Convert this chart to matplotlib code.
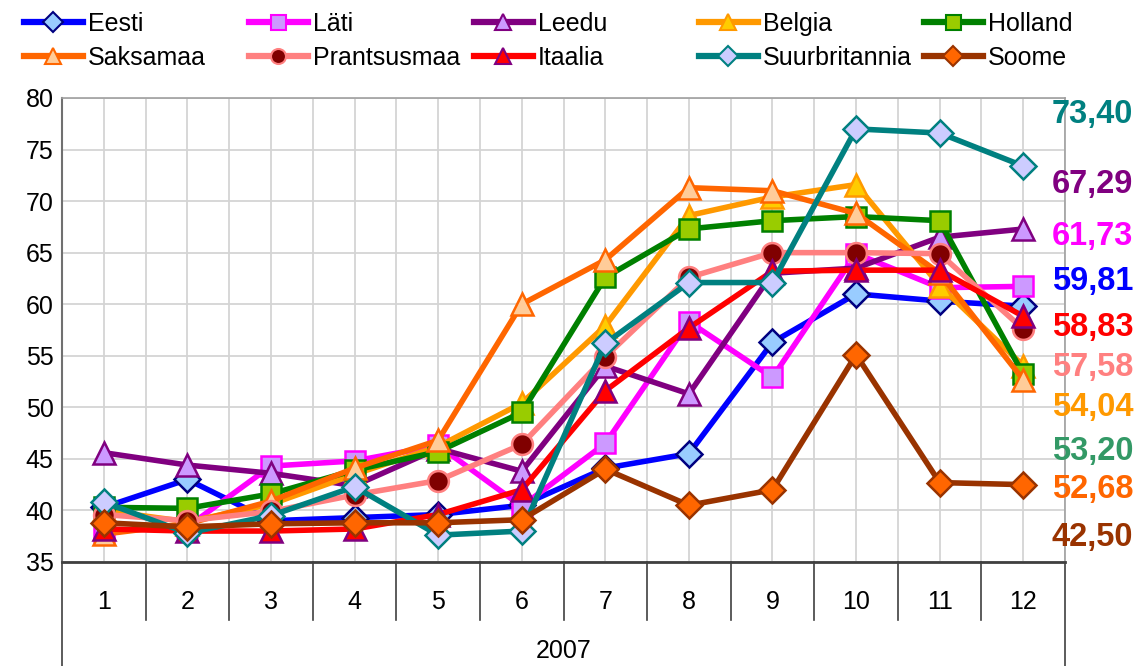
import numpy as np
import matplotlib
matplotlib.use("Agg")
import matplotlib.pyplot as plt
from matplotlib.lines import Line2D

plt.rcParams['font.family'] = ['Liberation Sans', 'DejaVu Sans']

# Monthly index values, 2007
months = ['1', '2', '3', '4', '5', '6', '7', '8', '9', '10', '11', '12']
year_label = '2007'

eesti = [40.3, 43.0, 39.0, 39.3, 39.6, 40.5, 44.1, 45.5, 56.3, 61.0, 60.3, 59.81]
lati = [38.0, 38.4, 44.3, 44.8, 46.3, 40.4, 46.5, 58.3, 52.9, 64.9, 61.6, 61.73]
leedu = [45.6, 44.4, 43.6, 42.4, 46.0, 43.8, 54.0, 51.3, 63.0, 63.5, 66.5, 67.29]
belgia = [40.0, 38.9, 40.6, 43.5, 46.2, 50.4, 57.9, 68.6, 70.4, 71.6, 61.8, 54.04]
holland = [40.3, 40.2, 41.6, 43.9, 45.7, 49.5, 62.6, 67.3, 68.1, 68.5, 68.1, 53.20]
saksamaa = [37.7, 38.7, 40.9, 44.1, 46.8, 60.0, 64.3, 71.3, 71.0, 68.8, 63.0, 52.68]
prantsusmaa = [39.6, 39.0, 39.9, 41.5, 42.9, 46.4, 54.9, 62.6, 65.0, 65.0, 64.9, 57.58]
itaalia = [38.2, 38.0, 38.0, 38.2, 39.6, 42.0, 51.6, 57.7, 63.2, 63.3, 63.3, 58.83]
suurbritannia = [40.8, 37.8, 39.5, 42.3, 37.6, 38.0, 56.2, 62.1, 62.1, 77.0, 76.6, 73.40]
soome = [38.8, 38.4, 38.7, 38.8, 38.8, 39.1, 44.0, 40.5, 42.0, 55.1, 42.7, 42.50]

names = ['Eesti', 'Läti', 'Leedu', 'Belgia', 'Holland',
         'Saksamaa', 'Prantsusmaa', 'Itaalia', 'Suurbritannia', 'Soome']
values = [eesti, lati, leedu, belgia, holland,
          saksamaa, prantsusmaa, itaalia, suurbritannia, soome]

# line colour, marker, marker face, marker edge, end-label colour
styles = [
    ('#0000FF', 'D', '#99CCFF', '#000080', '#0000FF'),
    ('#FF00FF', 's', '#CC99FF', '#FF00FF', '#FF00FF'),
    ('#800080', '^', '#CC99FF', '#800080', '#800080'),
    ('#FF9900', '^', '#FFCC00', '#FF9900', '#FF9900'),
    ('#008000', 's', '#99CC00', '#008000', '#339966'),
    ('#FF6600', '^', '#FFCC99', '#FF6600', '#FF6600'),
    ('#FF8080', 'o', '#800000', '#FF8080', '#FF8080'),
    ('#FF0000', '^', '#FF0000', '#800080', '#FF0000'),
    ('#008080', 'D', '#CCCCFF', '#008080', '#008080'),
    ('#993300', 'D', '#FF6600', '#993300', '#993300'),
]
marker_size = {'D': 13.5, 's': 15, '^': 16, 'o': 15}

fig = plt.figure(figsize=(11.42, 6.66), dpi=100)
ax = fig.add_axes([0.0543, 0.1562, 0.8783, 0.6967])

x = np.arange(len(months))
handles = []
for i, (name, vals, st) in enumerate(zip(names, values, styles)):
    lc, mk, mf, me, _ = st
    ax.plot(x, vals, color=lc, lw=4, marker=mk, ms=marker_size[mk],
            mfc=mf, mec=me, mew=1.8, zorder=3 + i, clip_on=False)
    handles.append(Line2D([], [], color=lc, lw=4.5, marker=mk,
                          ms=marker_size[mk] * 0.72, mfc=mf, mec=me, mew=1.5))

ax.set_xlim(-0.5, len(months) - 0.5)
ax.set_ylim(35, 80)
ax.set_yticks(np.arange(35, 81, 5))
ax.set_xticks(x)
ax.set_xticklabels(months)
ax.set_xticks(np.arange(-0.5, len(months), 1), minor=True)
ax.tick_params(axis='x', which='both', length=0, pad=20, labelsize=18)
ax.tick_params(axis='y', length=0, pad=6, labelsize=18)
ax.grid(True, which='both', color='#D4D4D4', lw=1.3, zorder=0)
ax.set_axisbelow(True)

for side in ['top', 'right']:
    ax.spines[side].set_color('#A0A0A0')
    ax.spines[side].set_linewidth(1.2)
ax.spines['left'].set_color('#707070')
ax.spines['left'].set_linewidth(1.5)
ax.spines['bottom'].set_color('#404040')
ax.spines['bottom'].set_linewidth(2)

# category table under the axis
tr = ax.get_xaxis_transform()
for b in np.arange(-0.5, len(months), 1):
    bottom = -0.23 if b in (-0.5, len(months) - 0.5) else -0.125
    ax.plot([b, b], [0, bottom], transform=tr, color='#404040', lw=1.2,
            clip_on=False, zorder=1)
ax.text(0.5, -0.192, year_label, transform=ax.transAxes, ha='center',
        va='center', fontsize=18)

# end-of-year values, stacked on the right
label_slots = [78.36, 71.57, 66.52, 62.16, 57.70, 53.82, 49.94, 45.67, 41.98, 37.42]
order = sorted(range(len(names)), key=lambda k: values[k][-1], reverse=True)
for slot, k in zip(label_slots, order):
    txt = f"{values[k][-1]:.2f}".replace('.', ',')
    ax.text(0.987, slot, txt, transform=ax.get_yaxis_transform(),
            color=styles[k][4], fontsize=23.5, fontweight='bold',
            ha='left', va='center', zorder=20)

# legend, two rows of five
for i, (h, name) in enumerate(zip(handles, names)):
    col, row = i % 5, i // 5
    fig.legend(handles=[h], labels=[name], loc='center left',
               bbox_to_anchor=(0.021 + col * 0.197, 0.964 - row * 0.051),
               frameon=False, fontsize=18, handlelength=2.35,
               handletextpad=0.2, borderpad=0, borderaxespad=0)

fig.savefig('out.png', dpi=100)
